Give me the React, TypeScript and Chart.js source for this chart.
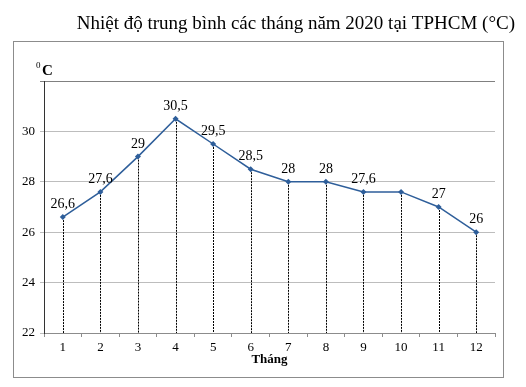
import React, { useEffect, useRef } from "react";
import { Chart, registerables } from "chart.js";

Chart.register(...registerables);

const months = ["1", "2", "3", "4", "5", "6", "7", "8", "9", "10", "11", "12"];
const temps = [26.6, 27.6, 29, 30.5, 29.5, 28.5, 28, 28, 27.6, 27.6, 27, 26];
const pointLabels = ["26,6", "27,6", "29", "30,5", "29,5", "28,5", "28", "28", "27,6", "", "27", "26"];
const titleText = "Nhiệt độ trung bình các tháng năm 2020 tại TPHCM (°C)";
const xTitle = "Tháng";
const yMin = 22;
const yMax = 32;
const yStep = 2;

const SERIF = "'Liberation Serif', 'Times New Roman', serif";

const decorPlugin = {
  id: "decor",
  beforeDraw(chart: any) {
    const ctx = chart.ctx;
    ctx.save();
    ctx.fillStyle = "#ffffff";
    ctx.fillRect(0, 0, chart.width, chart.height);
    ctx.strokeStyle = "#8c8c8c";
    ctx.lineWidth = 1;
    ctx.strokeRect(13.5, 41.5, 490, 336);
    ctx.fillStyle = "#000";
    ctx.font = `19px ${SERIF}`;
    ctx.textAlign = "right";
    ctx.textBaseline = "alphabetic";
    ctx.fillText(titleText, 515, 29);
    ctx.textAlign = "left";
    ctx.font = `9px ${SERIF}`;
    ctx.fillText("0", 36, 68);
    ctx.font = `bold 15px ${SERIF}`;
    ctx.fillText("C", 42, 75);
    ctx.font = `bold 13px ${SERIF}`;
    ctx.textAlign = "center";
    ctx.fillText(xTitle, (chart.chartArea.left + chart.chartArea.right) / 2, 363);
    ctx.restore();
  },
  beforeDatasetsDraw(chart: any) {
    const ctx = chart.ctx;
    const meta = chart.getDatasetMeta(0);
    const bottom = chart.scales.y.getPixelForValue(yMin);
    ctx.save();
    ctx.strokeStyle = "#000";
    ctx.lineWidth = 1;
    ctx.setLineDash([2, 1]);
    meta.data.forEach((pt: any) => {
      const x = Math.round(pt.x) + 0.5;
      ctx.beginPath();
      ctx.moveTo(x, pt.y);
      ctx.lineTo(x, bottom);
      ctx.stroke();
    });
    ctx.restore();
  },
  afterDatasetsDraw(chart: any) {
    const ctx = chart.ctx;
    const meta = chart.getDatasetMeta(0);
    ctx.save();
    ctx.fillStyle = "#000";
    ctx.font = `14px ${SERIF}`;
    ctx.textAlign = "center";
    ctx.textBaseline = "alphabetic";
    meta.data.forEach((pt: any, i: number) => {
      const t = pointLabels[i];
      if (t) ctx.fillText(t, pt.x, pt.y - 9);
    });
    ctx.restore();
  },
};

export default function App() {
  const ref = useRef<HTMLCanvasElement | null>(null);
  useEffect(() => {
    if (!ref.current) return;
    const chart = new Chart(ref.current, {
      type: "line",
      data: {
        labels: months,
        datasets: [
          {
            data: temps,
            borderColor: "#2E5E9A",
            backgroundColor: "#2E5E9A",
            borderWidth: 1.5,
            pointStyle: "rectRot",
            pointRadius: 3,
            pointBorderWidth: 0,
            tension: 0,
          },
        ],
      },
      options: {
        responsive: false,
        animation: false,
        devicePixelRatio: 1,
        layout: { padding: { top: 81, left: 0, right: 31, bottom: 0 } },
        plugins: {
          legend: { display: false },
          tooltip: { enabled: false },
          title: { display: false },
        },
        scales: {
          x: {
            offset: true,
            afterFit: (s: any) => {
              s.height = 54;
            },
            grid: {
              offset: true,
              drawOnChartArea: false,
              drawTicks: true,
              tickLength: 4,
              color: "#8c8c8c",
            },
            border: { color: "#8c8c8c" },
            ticks: {
              color: "#000",
              padding: 3,
              font: { family: SERIF, size: 13 },
              maxRotation: 0,
            },
          },
          y: {
            min: yMin,
            max: yMax,
            afterFit: (s: any) => {
              s.width = 44;
            },
            grid: {
              tickLength: 4,
              color: (c: any) => (c.tick && c.tick.value === yMax ? "#808080" : "#bdbdbd"),
            },
            border: { color: "#333333" },
            ticks: {
              stepSize: yStep,
              color: "#000",
              padding: 5,
              font: { family: SERIF, size: 13 },
              callback: (v: any) => (v === yMax ? "" : String(v)),
            },
          },
        },
      },
      plugins: [decorPlugin],
    } as any);
    return () => chart.destroy();
  }, []);
  return (
    <div style={{ position: "fixed", left: 0, top: 0, width: 526, height: 387, background: "#fff" }}>
      <canvas ref={ref} width={526} height={387} style={{ width: 526, height: 387, display: "block" }} />
    </div>
  );
}
